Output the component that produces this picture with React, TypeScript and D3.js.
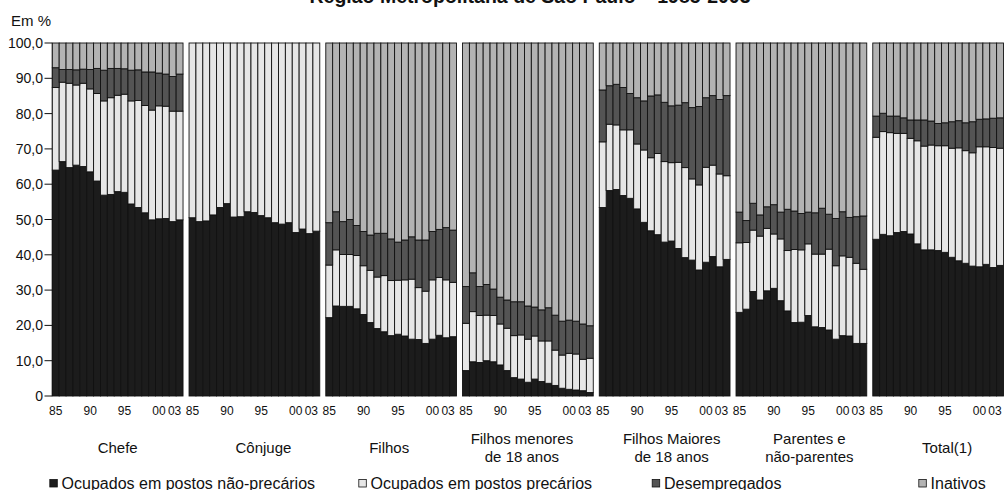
import React from "react";
import * as d3 from "d3";

const title = "Região Metropolitana de São Paulo – 1985-2003";
const yUnit = "Em %";
const years = ["85","86","87","88","89","90","91","92","93","94","95","96","97","98","99","00","01","02","03"];
const tickYears = ["85","90","95","00","03"];
const groupIds = ["chefe","conjuge","filhos","menores","maiores","parentes","total"];
const groupLabels = [
  ["Chefe"],
  ["Cônjuge"],
  ["Filhos"],
  ["Filhos menores", "de 18 anos"],
  ["Filhos Maiores", "de 18 anos"],
  ["Parentes e", "não-parentes"],
  ["Total(1)"],
];
const seriesNames = [
  "Ocupados em postos não-precários",
  "Ocupados em postos precários",
  "Desempregados",
  "Inativos",
];
const yTicks = [0, 10, 20, 30, 40, 50, 60, 70, 80, 90, 100];

const naoPrecarios = [
  [64.0,66.4,64.7,65.4,65.0,63.5,60.9,56.9,57.1,57.9,57.7,54.4,53.4,51.9,49.9,50.2,50.3,49.4,49.9],
  [50.5,49.4,49.6,51.3,53.4,54.5,50.7,50.8,52.2,52.0,51.1,50.5,49.1,48.7,49.1,46.3,47.3,46.0,46.7],
  [22.2,25.5,25.4,25.4,24.7,23.1,20.8,19.1,18.2,17.1,17.5,17.0,16.1,16.0,14.9,16.1,17.2,16.5,16.8],
  [7.2,9.7,9.5,10.0,9.7,8.8,7.2,5.2,4.8,3.9,4.8,4.1,3.6,3.0,2.2,1.9,1.7,1.5,1.0],
  [53.4,58.2,58.5,56.8,56.0,53.0,49.2,46.8,45.7,43.6,43.9,41.8,39.2,38.5,35.7,37.9,39.5,36.6,38.7],
  [23.7,24.6,29.6,27.2,29.8,30.5,27.0,24.1,20.8,20.9,22.8,19.6,19.4,18.7,16.1,17.1,17.0,14.9,14.9],
  [44.4,45.8,45.4,46.3,46.6,45.9,43.1,41.4,41.4,41.2,40.7,39.3,38.3,37.6,36.8,36.6,37.3,36.4,37.0],
];
const precarios = [
  [23.4,22.5,23.9,22.7,23.6,23.5,24.8,26.7,27.4,27.3,27.8,29.2,30.3,30.4,31.1,32.0,31.8,31.3,30.8],
  [49.5,50.6,50.4,48.7,46.6,45.5,49.3,49.2,47.8,48.0,48.9,49.5,50.9,51.3,50.9,53.7,52.7,54.0,53.3],
  [14.9,15.9,14.7,14.7,15.1,13.8,14.8,14.6,15.9,15.6,15.3,15.9,17.0,14.7,14.8,16.8,16.4,16.4,15.4],
  [13.4,14.2,13.3,12.9,13.1,11.6,12.0,11.9,12.5,12.2,12.2,11.5,12.0,10.0,9.4,10.2,10.2,8.9,9.7],
  [18.6,18.8,18.3,18.6,19.4,18.4,20.5,20.7,23.0,22.8,22.2,24.4,25.5,23.0,24.1,26.9,25.9,26.3,23.7],
  [19.7,18.9,17.4,18.1,17.7,15.4,17.5,17.1,20.7,20.5,20.3,20.6,20.8,22.9,20.8,22.6,22.3,22.7,21.0],
  [28.9,29.1,29.2,28.1,27.8,27.1,29.2,29.4,29.7,29.7,30.2,30.9,32.0,31.9,32.1,34.0,33.3,34.0,33.2],
];
const desempregados = [
  [5.6,3.6,3.9,4.3,4.0,5.5,7.1,8.7,8.3,7.6,7.2,8.7,8.7,9.5,10.8,9.3,9.1,9.8,10.5],
  [0,0,0,0,0,0,0,0,0,0,0,0,0,0,0,0,0,0,0],
  [12.0,10.8,9.3,9.9,8.5,9.7,10.0,12.4,12.0,11.8,10.8,11.3,12.0,13.5,14.5,13.7,13.6,14.8,14.8],
  [10.4,11.0,8.2,8.7,7.5,7.6,8.0,9.6,9.4,9.4,8.2,8.8,9.4,9.9,9.6,9.4,9.3,10.0,9.2],
  [14.7,10.9,11.5,12.0,10.3,13.1,13.9,17.5,16.6,16.8,16.1,16.2,18.4,20.2,22.2,19.7,19.7,21.1,22.7],
  [8.7,6.2,7.6,6.0,6.1,8.3,7.6,11.7,10.9,10.3,9.0,11.7,13.0,9.9,13.4,12.5,11.3,13.2,15.1],
  [6.0,5.2,4.7,4.9,4.4,5.2,5.9,7.4,6.8,6.3,6.5,7.5,7.7,7.9,8.8,7.8,7.9,8.3,8.6],
];
const inativos = [
  [7.0,7.5,7.5,7.6,7.4,7.5,7.2,7.7,7.2,7.2,7.3,7.7,7.6,8.2,8.2,8.5,8.8,9.5,8.8],
  [0,0,0,0,0,0,0,0,0,0,0,0,0,0,0,0,0,0,0],
  [50.9,47.8,50.6,50.0,51.7,53.4,54.4,53.9,53.9,55.5,56.4,55.8,54.9,55.8,55.8,53.4,52.8,52.3,53.0],
  [69.0,65.1,69.0,68.4,69.7,72.0,72.8,73.3,73.3,74.5,74.8,75.6,75.0,77.1,78.8,78.5,78.8,79.6,80.1],
  [13.3,12.1,11.7,12.6,14.3,15.5,16.4,15.0,14.7,16.8,17.8,17.6,16.9,18.3,18.0,15.5,14.9,16.0,14.9],
  [47.9,50.3,45.4,48.7,46.4,45.8,47.9,47.1,47.6,48.3,47.9,48.1,46.8,48.5,49.7,47.8,49.4,49.2,49.0],
  [20.7,19.9,20.7,20.7,21.2,21.8,21.8,21.8,22.1,22.8,22.6,22.3,22.0,22.6,22.3,21.6,21.5,21.3,21.2],
];

const W = 1006;
const H = 490;
const FONT = "'Liberation Sans', Arial, Helvetica, sans-serif";
const colors = ["#1c1c1c", "#e6e6e6", "#545454", "#b3b3b3"];
const keys = ["np", "p", "d", "i"];
const labelDx = [0, 9, -2, -6, 7, 8, 9];
const legendX = [49.3, 358.3, 651.7, 918.3];

export default function App() {
  const x0 = d3.scaleBand<string>().domain(groupIds).range([52.3, 1003.5]).paddingInner(0.044).paddingOuter(0);
  const x1 = d3.scaleBand<string>().domain(years).range([0, x0.bandwidth()]).padding(0);
  const y = d3.scaleLinear().domain([0, 100]).range([396, 43]);
  const fmt = (v: number) => (v === 0 ? "0" : d3.format(".1f")(v).replace(".", ","));
  const stack = d3.stack<any>().keys(keys);

  return (
    <svg width={W} height={H} style={{ position: "absolute", left: 0, top: 0, background: "#fff" }} fontFamily={FONT}>
      <text x={530} y={2.5} textAnchor="middle" fontSize={19.5} fontWeight="bold" fill="#111">{title}</text>
      <text x={11} y={25.7} fontSize={15} fill="#111">{yUnit}</text>

      {/* y axis */}
      <line x1={52.3} x2={52.3} y1={y(0)} y2={y(100)} stroke="#111" strokeWidth={1} />
      {yTicks.map((t) => (
        <g key={t}>
          <line x1={44.5} x2={52.3} y1={y(t)} y2={y(t)} stroke="#111" strokeWidth={1} />
          <text x={43} y={y(t) + 5} textAnchor="end" fontSize={14} fill="#111">{fmt(t)}</text>
        </g>
      ))}

      {groupIds.map((g, gi) => {
        const rows = years.map((yr, i) => ({
          year: yr,
          np: naoPrecarios[gi][i],
          p: precarios[gi][i],
          d: desempregados[gi][i],
          i: inativos[gi][i],
        }));
        const layers = stack(rows);
        const gx = x0(g)!;
        const cx = gx + x0.bandwidth() / 2 + labelDx[gi];
        const lines = groupLabels[gi];
        return (
          <g key={g}>
            <g transform={`translate(${gx},0)`}>
              {layers.map((layer, li) =>
                layer.map((seg, si) => {
                  const h = y(seg[0]) - y(seg[1]);
                  if (h <= 0.01) return null;
                  return (
                    <rect
                      key={`${li}-${si}`}
                      x={x1(years[si])!}
                      y={y(seg[1])}
                      width={x1.bandwidth()}
                      height={h}
                      fill={colors[li]}
                      stroke="#111"
                      strokeWidth={0.9}
                    />
                  );
                })
              )}
              {tickYears.map((t) => (
                <text
                  key={t}
                  x={x1(t)! + x1.bandwidth() / 2 + (t === "03" ? -5 : 0)}
                  y={414.5}
                  textAnchor="middle"
                  fontSize={12}
                  fill="#111"
                >
                  {t}
                </text>
              ))}
            </g>
            {lines.length === 1 ? (
              <text x={cx} y={452.7} textAnchor="middle" fontSize={15} fill="#111">{lines[0]}</text>
            ) : (
              lines.map((l, k) => (
                <text key={k} x={cx} y={443.5 + k * 18} textAnchor="middle" fontSize={15} fill="#111">{l}</text>
              ))
            )}
          </g>
        );
      })}

      {/* legend */}
      {seriesNames.map((s, i) => (
        <g key={s}>
          <rect x={legendX[i] + 0.5} y={479.5} width={7.5} height={7.5} fill={colors[i]} stroke="#111" strokeWidth={0.8} />
          <text x={legendX[i] + 12.3} y={488.8} fontSize={16} fill="#111">{s}</text>
        </g>
      ))}
    </svg>
  );
}
